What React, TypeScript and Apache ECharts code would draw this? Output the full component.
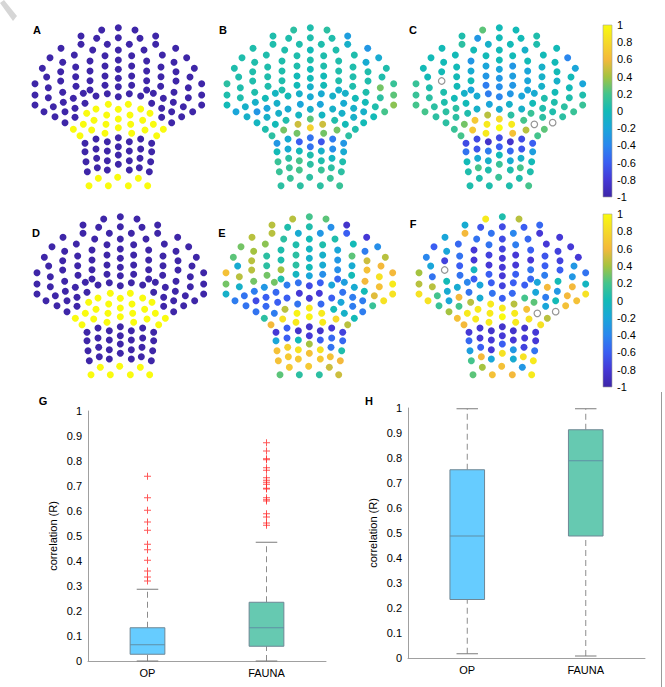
import React, { useEffect, useRef } from "react";
import * as echarts from "echarts";

// Electrode positions (panel units: 600 wide x 540 high, y downward), row by row
const PX = [
  245, 295, 345,
  183, 230, 295, 360, 407,
  183, 262, 328, 407,
  123, 218, 295, 372, 467,
  90, 163, 255, 335, 427, 500,
  128, 210, 295, 380, 462,
  67, 167, 255, 335, 423, 523,
  122, 210, 295, 380, 468,
  80, 167, 255, 335, 423, 510,
  122, 210, 295, 380, 468,
  45, 168, 255, 335, 422, 545,
  85, 210, 295, 380, 505,
  45, 85, 128, 160, 190, 228, 262, 295, 328, 362, 400, 430, 462, 505, 545,
  45, 100, 130, 165, 195, 228, 265, 295, 325, 362, 395, 425, 460, 490, 545,
  72, 105, 135, 165, 200, 260, 295, 330, 390, 425, 455, 485, 518,
  135, 160, 190, 222, 215, 258, 295, 332, 368, 375, 400, 430, 455,
  180, 255, 335, 410,
  195, 228, 262, 295, 328, 362, 395,
  195, 228, 262, 295, 328, 362, 395,
  198, 230, 262, 295, 328, 360, 392,
  202, 232, 262, 295, 328, 358, 388,
  235, 293, 355,
  207, 265, 325, 383,
];
const PY = [
  45, 38, 45,
  63, 70, 68, 70, 63,
  88, 88, 88, 88,
  100, 105, 105, 105, 100,
  128, 120, 122, 122, 120, 128,
  142, 138, 135, 138, 142,
  160, 156, 153, 153, 156, 160,
  170, 168, 163, 168, 170,
  186, 185, 183, 183, 185, 186,
  198, 197, 190, 197, 198,
  206, 214, 211, 211, 214, 206,
  218, 225, 215, 225, 218,
  240, 248, 232, 250, 235, 243, 236, 245, 236, 243, 235, 250, 232, 248, 240,
  270, 275, 262, 280, 265, 282, 268, 283, 268, 282, 265, 280, 262, 275, 270,
  290, 305, 290, 307, 295, 300, 312, 300, 295, 307, 290, 305, 290,
  323, 343, 328, 316, 345, 328, 338, 328, 316, 345, 328, 343, 323,
  362, 355, 355, 362,
  385, 372, 380, 368, 380, 372, 385,
  410, 402, 408, 395, 408, 402, 410,
  440, 430, 437, 420, 437, 430, 440,
  470, 458, 465, 448, 465, 458, 470,
  490, 487, 490,
  512, 512, 512, 512,
];

const VAL_A = [
  -1, -1, -1,
  -1, -1, -1, -1, -1,
  -1, -1, -1, -1,
  -1, -1, -1, -1, -1,
  -1, -1, -1, -1, -1, -1,
  -1, -1, -1, -1, -1,
  -1, -1, -1, -1, -1, -1,
  -1, -1, -1, -1, -1,
  -1, -1, -1, -1, -1, -1,
  -1, -1, -1, -1, -1,
  -1, -1, -1, -1, -1, -1,
  -1, -1, -1, -1, -1,
  -1, -1, -1, -1, -1, -1, -1, -1, -1, -1, -1, -1, -1, -1, -1,
  -1, -1, -1, -1, -1, 1, 1, 1, 1, 1, -1, -1, -1, -1, -1,
  -1, -1, -1, -1, 1, 1, 1, 1, 1, -1, -1, -1, -1,
  -1, 1, 1, 1, 1, 1, 1, 1, 1, 1, 1, 1, -1,
  1, 1, 1, 1,
  -1, -1, -1, -1, -1, -1, -1,
  -1, -1, -1, -1, -1, -1, -1,
  -1, -1, -1, -1, -1, -1, -1,
  -1, -1, -1, -1, -1, -1, -1,
  1, 1, 1,
  1, 1, 1, 1,
];
const VAL_D = [
  -1, -1, -1,
  -1, -1, -1, -1, -1,
  -1, -1, -1, -1,
  -1, -1, -1, -1, -1,
  -1, -1, -1, -1, -1, -1,
  -1, -1, -1, -1, -1,
  -1, -1, -1, -1, -1, -1,
  -1, -1, -1, -1, -1,
  -1, -1, -1, -1, -1, -1,
  -1, -1, -1, -1, -1,
  -1, -1, -1, -1, -1, -1,
  -1, -1, -1, -1, -1,
  -1, -1, -1, -1, -1, -1, -1, -1, -1, -1, -1, -1, -1, -1, -1,
  -1, -1, -1, -1, -1, 1, 1, 1, 1, 1, -1, -1, -1, -1, -1,
  -1, -1, -1, -1, 1, 1, 1, 1, 1, -1, -1, -1, -1,
  -1, 1, 1, 1, 1, 1, 1, 1, 1, 1, 1, 1, -1,
  1, 1, 1, 1,
  -1, -1, -1, -1, -1, -1, -1,
  -1, -1, -1, -1, -1, -1, -1,
  -1, -1, -1, -1, -1, -1, -1,
  -1, -1, -1, -1, -1, -1, -1,
  1, 1, 1,
  1, 1, 1, 1,
];
const VAL_B = [
  0.1, 0.05, 0.1,
  0.05, 0.05, 0.05, 0.05, -0.25,
  0.05, 0.05, 0.05, -0.1,
  0.05, 0.05, 0.0, 0.05, -0.3,
  0.05, 0.05, 0.05, 0.05, 0.05, -0.15,
  0.05, 0.05, 0.05, 0.05, -0.15,
  0.05, 0.05, 0.05, 0.05, 0.05, 0.05,
  0.05, 0.05, 0.0, 0.05, 0.05,
  0.05, 0.05, 0.0, 0.0, 0.05, 0.05,
  0.05, 0.05, 0.0, 0.05, 0.05,
  0.1, 0.05, 0.0, 0.0, 0.05, 0.15,
  0.05, 0.05, -0.1, -0.1, 0.3,
  0.05, 0.05, 0.05, 0.0, -0.05, 0.0, -0.1, -0.15, -0.15, -0.1, -0.1, 0.0, 0.05, 0.1, 0.25,
  0.0, -0.1, -0.1, -0.2, -0.1, -0.15, -0.2, -0.1, -0.2, -0.1, -0.15, -0.1, 0.0, 0.05, 0.35,
  -0.2, -0.1, -0.3, -0.1, -0.1, -0.05, 0.25, -0.05, -0.1, -0.1, -0.1, 0.0, 0.2,
  -0.05, 0.05, 0.0, 0.05, 0.3, 0.5, 0.75, 0.5, 0.05, 0.3, 0.0, 0.05, 0.0,
  0.1, 0.3, 0.3, 0.1,
  -0.3, -0.15, -0.6, -0.5, -0.65, -0.45, -0.3,
  0.0, -0.15, 0.0, -0.5, -0.1, -0.35, -0.15,
  0.15, 0.1, 0.2, 0.05, 0.05, -0.05, 0.05,
  0.15, 0.15, 0.2, 0.1, 0.15, 0.1, 0.1,
  0.15, 0.1, 0.15,
  0.1, 0.1, 0.1, 0.15,
];
const VAL_C = [
  0.25, 0.0, 0.0,
  0.05, -0.3, 0.0, 0.0, 0.05,
  0.1, -0.1, 0.0, 0.05,
  0.0, 0.0, 0.0, -0.1, 0.0,
  0.0, 0.0, 0.0, 0.0, 0.0, -0.4,
  0.0, -0.3, 0.0, 0.0, 0.0,
  0.0, 0.0, -0.2, -0.3, -0.1, -0.2,
  0.0, -0.15, -0.2, -0.2, 0.0,
  0.0, 0.0, -0.3, -0.25, -0.1, 0.0,
  null, 0.0, -0.3, -0.2, -0.1,
  0.15, 0.0, -0.45, -0.3, -0.1, -0.2,
  0.05, -0.2, -0.35, -0.2, 0.0,
  0.15, 0.1, 0.05, 0.0, -0.1, -0.15, -0.45, -0.4, -0.3, -0.2, -0.15, 0.05, 0.0, 0.05, 0.05,
  0.2, 0.1, 0.05, 0.1, 0.0, -0.1, -0.2, -0.15, -0.1, -0.1, 0.0, 0.05, 0.05, 0.1, 0.15,
  0.2, 0.1, 0.1, 0.1, 0.05, 0.45, 0.8, 0.1, 0.15, 0.1, 0.05, 0.1, 0.15,
  0.1, 0.15, 0.3, 0.7, 0.7, 0.9, 1.0, 0.9, 0.2, 0.45, null, 0.25, null,
  0.2, 0.9, 0.65, 0.2,
  -0.7, -0.7, -0.85, -0.7, -0.85, -0.7, -0.6,
  -0.5, -0.65, -0.45, -0.6, -0.55, -0.65, -0.25,
  0.0, -0.15, -0.1, 0.0, -0.15, -0.1, 0.0,
  0.05, 0.2, 0.05, 0.15, 0.05, 0.2, 0.05,
  0.05, 0.15, 0.05,
  0.05, 0.05, 0.05, 0.2,
];
const VAL_E = [
  0.45, 0.2, 0.25,
  0.45, 0.05, 0.05, -0.35, -0.85,
  0.45, -0.15, -0.3, -0.6,
  0.45, 0.1, 0.0, 0.05, -0.8,
  0.3, 0.35, 0.05, 0.05, 0.0, -0.35,
  0.4, 0.05, -0.05, -0.2, -0.45,
  0.25, 0.1, 0.1, -0.1, 0.25, 0.45,
  0.45, 0.05, -0.1, -0.3, 0.5,
  -0.15, 0.1, 0.1, -0.15, -0.15, 0.6,
  0.45, 0.4, 0.0, -0.35, 0.65,
  0.65, 0.3, -0.05, -0.35, 0.0, 0.6,
  0.45, 0.05, -0.2, -0.55, 0.85,
  0.3, -0.1, 0.3, -0.3, 0.3, -0.45, -0.5, -0.7, -0.6, -0.2, -0.25, -0.15, 0.6, 0.65, 0.9,
  -0.1, -0.5, -0.45, -0.6, -0.55, -0.6, -0.8, -0.8, -0.8, -0.6, -0.5, -0.45, 0.0, 0.55, 0.85,
  -0.45, -0.5, -0.7, -0.55, -0.6, -0.5, 0.9, -0.55, -0.2, -0.45, -0.45, 0.15, 0.85,
  -0.5, 0.1, -0.45, 0.45, 0.85, 0.95, 0.95, 0.9, 0.0, 0.8, -0.1, 0.0, -0.45,
  0.6, 0.9, 0.9, 0.45,
  -0.8, -0.6, -0.85, -0.85, -0.85, -0.8, -0.75,
  -0.2, -0.6, 0.0, -0.8, -0.6, -0.55, -0.55,
  0.65, 0.75, 0.85, 0.4, 0.85, -0.5, 0.05,
  0.65, 0.7, 0.7, 0.65, 0.7, 0.65, 0.6,
  0.7, 0.7, 0.5,
  0.25, 0.1, 0.1, 0.5,
];
const VAL_F = [
  0.9, 0.05, 0.45,
  -0.15, -0.65, -0.7, -0.6, -0.55,
  0.6, -0.5, -0.4, -0.8,
  -0.2, -0.5, -0.7, -0.55, -0.8,
  -0.6, -0.55, -0.5, -0.45, -0.8, -0.8,
  -0.2, -0.8, -0.75, -0.6, -0.75,
  -0.4, -0.5, -0.75, -0.8, -0.65, -0.8,
  -0.75, -0.8, -0.8, -0.8, -0.75,
  -0.2, -0.6, -0.8, -0.8, -0.6, -0.3,
  null, -0.05, -0.8, -0.5, -0.6,
  0.4, -0.5, -0.6, -0.6, -0.45, -0.5,
  -0.5, -0.6, -0.8, -0.55, -0.3,
  0.45, 0.45, 0.0, -0.15, -0.4, -0.2, -0.6, -0.75, -0.6, -0.6, -0.2, 0.6, 0.0, 0.6, -0.05,
  0.85, 0.2, -0.15, 0.6, -0.5, -0.15, -0.5, -0.6, -0.55, 0.2, -0.2, -0.45, -0.3, 0.6, 0.85,
  0.85, 0.15, -0.2, 0.2, 0.45, 0.9, 0.9, 0.45, 0.25, -0.2, 0.0, 0.65, 0.65,
  0.4, 0.65, 0.9, 0.9, 0.9, 0.9, 1.0, 0.9, 0.65, 0.85, null, 0.45, null,
  0.6, 0.9, 0.9, 0.85,
  -0.8, -0.8, -0.85, -0.85, -0.85, -0.85, -0.8,
  -0.55, -0.8, -0.8, -0.8, -0.8, -0.8, -0.8,
  -0.25, -0.6, -0.8, -0.6, -0.3, -0.75, -0.5,
  0.2, 0.6, -0.2, 0.85, -0.15, 0.85, 0.9,
  0.4, 0.65, -0.3,
  0.25, 0.65, 0.6, 0.9,
];

const CB_TICKS = [-1, -0.8, -0.6, -0.4, -0.2, 0, 0.2, 0.4, 0.6, 0.8, 1];

const BOX_CATS = ["OP", "FAUNA"];
// [min whisker, Q1, median, Q3, max whisker]
const G_OP = [0, 0.027, 0.065, 0.133, 0.287];
const G_FAUNA = [0, 0.059, 0.133, 0.235, 0.475];
const G_OUT_OP = [0.32, 0.336, 0.36, 0.403, 0.445, 0.467, 0.523, 0.556, 0.603, 0.653, 0.739];
const G_OUT_FAUNA = [0.543, 0.552, 0.576, 0.589, 0.64, 0.645, 0.653, 0.688, 0.691, 0.707, 0.715, 0.723, 0.733, 0.763, 0.773, 0.805, 0.809, 0.84, 0.873];
const H_OP = [0.017, 0.234, 0.488, 0.753, 0.997];
const H_FAUNA = [0.008, 0.488, 0.789, 0.913, 0.997];

const PARULA = [
  "#3E26A8", "#4538D6", "#3A5EF2", "#2A87EE", "#1AA6D9", "#13BAB7",
  "#44C48C", "#A4C340", "#F4B93B", "#F5D92A", "#F9FB0E",
];
const BOX_COLORS = ["#66CCFF", "#66C9B1"];
const FONT = "'Liberation Sans', Arial, Helvetica, sans-serif";

const SCATTER_PANELS = [
  { vals: VAL_A, left: 20, top: 15 },
  { vals: VAL_B, left: 212, top: 15 },
  { vals: VAL_C, left: 401, top: 15 },
  { vals: VAL_D, left: 22, top: 204 },
  { vals: VAL_E, left: 211, top: 204 },
  { vals: VAL_F, left: 404, top: 204 },
];

function boxRender(params: any, api: any) {
  const cat = api.value(0);
  const c = (v: number) => api.coord([cat, v]);
  const pMin = c(api.value(1));
  const pQ1 = c(api.value(2));
  const pMed = c(api.value(3));
  const pQ3 = c(api.value(4));
  const pMax = c(api.value(5));
  const xc = pMed[0];
  const bw = api.size([1, 0])[0] * 0.292;
  const half = bw / 2;
  const cap = half * 0.62;
  const dash = { stroke: "#8c8c8c", lineWidth: 1, lineDash: [6, 4] };
  const solid = { stroke: "#7b7b7b", lineWidth: 1 };
  return {
    type: "group",
    children: [
      { type: "line", shape: { x1: xc, y1: pQ3[1], x2: xc, y2: pMax[1] }, style: dash },
      { type: "line", shape: { x1: xc, y1: pMin[1], x2: xc, y2: pQ1[1] }, style: dash },
      { type: "line", shape: { x1: xc - cap, y1: pMax[1], x2: xc + cap, y2: pMax[1] }, style: solid },
      { type: "line", shape: { x1: xc - cap, y1: pMin[1], x2: xc + cap, y2: pMin[1] }, style: solid },
      {
        type: "rect",
        shape: { x: xc - half, y: pQ3[1], width: bw, height: pQ1[1] - pQ3[1] },
        style: { fill: BOX_COLORS[params.dataIndex], stroke: "#6f8795", lineWidth: 1 },
      },
      {
        type: "line",
        shape: { x1: xc - half, y1: pMed[1], x2: xc + half, y2: pMed[1] },
        style: { stroke: "#5f8fa6", lineWidth: 1 },
      },
    ],
  };
}

function colorbarRender(params: any, api: any) {
  const p0 = api.coord([0, 1]);
  const p1 = api.coord([1, -1]);
  const stops = PARULA.map((col, i) => ({ offset: 1 - i / (PARULA.length - 1), color: col })).reverse();
  return {
    type: "rect",
    shape: { x: p0[0], y: p0[1], width: p1[0] - p0[0], height: p1[1] - p0[1] },
    style: {
      fill: new echarts.graphic.LinearGradient(0, 0, 0, 1, stops),
      stroke: "#a0a0a0",
      lineWidth: 0.6,
    },
  };
}

const PLUS = "path://M4.3,0h1.4v4.3h4.3v1.4h-4.3v4.3h-1.4v-4.3h-4.3v-1.4h4.3z";

export default function App() {
  const ref = useRef<HTMLDivElement>(null);
  useEffect(() => {
    if (!ref.current) return;
    const chart = echarts.init(ref.current, null, { renderer: "svg" });
    const grids: any[] = [];
    const xAxes: any[] = [];
    const yAxes: any[] = [];
    const series: any[] = [];

    // scatter panels (grid 0..5)
    SCATTER_PANELS.forEach((p, i) => {
      grids.push({ left: p.left, top: p.top, width: 200, height: 180 });
      xAxes.push({ type: "value", gridIndex: i, min: 0, max: 600, show: false });
      yAxes.push({ type: "value", gridIndex: i, min: 0, max: 540, inverse: true, show: false });
    });
    SCATTER_PANELS.forEach((p, i) => {
      const data: any[] = [];
      PX.forEach((x, k) => {
        const v = p.vals[k];
        if (v !== null && v !== undefined) data.push([x, PY[k], v]);
      });
      series.push({
        type: "scatter",
        xAxisIndex: i,
        yAxisIndex: i,
        data,
        symbolSize: 7,
        silent: true,
        itemStyle: { opacity: 1 },
      });
    });
    // NaN (open) markers
    SCATTER_PANELS.forEach((p, i) => {
      const nan: any[] = [];
      PX.forEach((x, k) => {
        if (p.vals[k] === null) nan.push([x, PY[k]]);
      });
      if (nan.length) {
        series.push({
          type: "scatter",
          xAxisIndex: i,
          yAxisIndex: i,
          data: nan,
          symbolSize: 6.5,
          silent: true,
          itemStyle: { color: "#ffffff", borderColor: "#7a7a7a", borderWidth: 1.2 },
        });
      }
    });

    // colorbars (grid 6,7)
    const cbs = [
      { top: 25, height: 172 },
      { top: 214, height: 173 },
    ];
    cbs.forEach((cb) => {
      const gi = grids.length;
      grids.push({ left: 603, top: cb.top, width: 9, height: cb.height });
      xAxes.push({ type: "value", gridIndex: gi, min: 0, max: 1, show: false });
      yAxes.push({
        type: "value",
        gridIndex: gi,
        min: CB_TICKS[0],
        max: CB_TICKS[CB_TICKS.length - 1],
        interval: 0.2,
        position: "right",
        axisLine: { show: false },
        axisTick: { show: false },
        splitLine: { show: false },
        axisLabel: { color: "#000", fontSize: 11, margin: 5, fontFamily: FONT },
      });
      series.push({
        type: "custom",
        xAxisIndex: gi,
        yAxisIndex: gi,
        data: [[0, -1, 1]],
        renderItem: colorbarRender,
        silent: true,
        clip: false,
      });
    });

    // box plots (grid 8,9)
    const boxes = [
      { left: 88, top: 411, width: 238, stats: [G_OP, G_FAUNA], outliers: [G_OUT_OP, G_OUT_FAUNA] },
      { left: 408, top: 408, width: 237, stats: [H_OP, H_FAUNA], outliers: [[], []] },
    ];
    boxes.forEach((b) => {
      const gi = grids.length;
      grids.push({ left: b.left, top: b.top, width: b.width, height: 250 });
      xAxes.push({
        type: "category",
        gridIndex: gi,
        data: BOX_CATS,
        axisLine: { lineStyle: { color: "#a0a0a0", width: 1 } },
        axisTick: { show: false },
        axisLabel: { color: "#000", fontSize: 11, margin: 6, fontFamily: FONT },
      });
      yAxes.push({
        type: "value",
        gridIndex: gi,
        min: 0,
        max: 1,
        interval: 0.1,
        axisLine: { show: true, lineStyle: { color: "#a0a0a0", width: 1 } },
        axisTick: { show: false },
        splitLine: { show: false },
        axisLabel: { color: "#000", fontSize: 11, margin: 6, fontFamily: FONT },
        name: "correlation (R)",
        nameLocation: "middle",
        nameGap: 30,
        nameTextStyle: { color: "#000", fontSize: 11, fontFamily: FONT },
      });
      series.push({
        type: "custom",
        xAxisIndex: gi,
        yAxisIndex: gi,
        data: b.stats.map((s, k) => [k, ...s]),
        renderItem: boxRender,
        silent: true,
        clip: false,
      });
      const outData: any[] = [];
      b.outliers.forEach((arr, k) => arr.forEach((v) => outData.push([k, v])));
      if (outData.length) {
        series.push({
          type: "scatter",
          xAxisIndex: gi,
          yAxisIndex: gi,
          data: outData,
          symbol: PLUS,
          symbolSize: 7,
          silent: true,
          itemStyle: { color: "#ff2a2a" },
        });
      }
    });

    const labels = [
      { t: "A", x: 37, y: 30 },
      { t: "B", x: 223, y: 30 },
      { t: "C", x: 413, y: 30 },
      { t: "D", x: 36, y: 233 },
      { t: "E", x: 222, y: 233 },
      { t: "F", x: 413, y: 224 },
      { t: "G", x: 43, y: 401 },
      { t: "H", x: 369, y: 401 },
    ];

    chart.setOption({
      animation: false,
      backgroundColor: "#ffffff",
      textStyle: { fontFamily: FONT },
      grid: grids,
      xAxis: xAxes,
      yAxis: yAxes,
      visualMap: [
        {
          type: "continuous",
          show: false,
          seriesIndex: [0, 1, 2, 3, 4, 5],
          dimension: 2,
          min: -1,
          max: 1,
          inRange: { color: PARULA },
        },
      ],
      series,
      graphic: [
        ...labels.map((l) => ({
          type: "text",
          x: l.x,
          y: l.y,
          style: {
            text: l.t,
            fontSize: 11,
            fontWeight: "bold",
            fontFamily: FONT,
            fill: "#000",
            textAlign: "center",
            textVerticalAlign: "middle",
          },
        })),
        {
          type: "line",
          shape: { x1: 661.5, y1: 392, x2: 661.5, y2: 687 },
          style: { stroke: "#9a9a9a", lineWidth: 1 },
        },
        {
          type: "polygon",
          shape: { points: [[0, 3], [4, 0], [17, 16], [13, 21]] },
          style: { fill: "#d6d6d6" },
        },
      ],
    });
    return () => chart.dispose();
  }, []);
  return (
    <div
      ref={ref}
      style={{ position: "absolute", left: 0, top: 0, width: 665, height: 687, background: "#fff" }}
    />
  );
}
